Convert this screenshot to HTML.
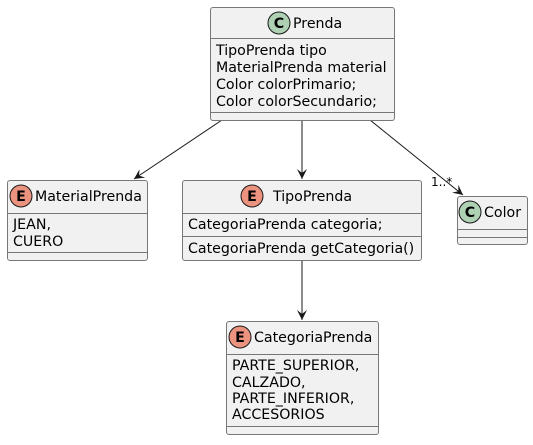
<!DOCTYPE html>
<html><head><meta charset="utf-8"><style>
body{margin:0;background:#fff}
svg text{font-family:"DejaVu Sans","Liberation Sans",sans-serif;font-size:14.2px;fill:#000}
.b{fill:#F1F1F1;stroke:#777;stroke-width:1}
.d{stroke:#777;stroke-width:1}
.l{stroke:#181818;stroke-width:1}
</style></head><body>
<svg width="533" height="440" viewBox="0 0 533 440">
<defs><marker id="ar" markerWidth="12" markerHeight="10" refX="10" refY="5" orient="auto" markerUnits="userSpaceOnUse"><path d="M0,0 L10,5 L0,10 L4,5 Z" fill="#181818"/></marker></defs>
<g>
<line class="l" x1="222" y1="120" x2="134" y2="179" marker-end="url(#ar)"/>
<line class="l" x1="302" y1="120" x2="302" y2="179" marker-end="url(#ar)"/>
<line class="l" x1="370" y1="120" x2="463" y2="195" marker-end="url(#ar)"/>
<text x="431" y="186" style="font-size:12px">1..*</text>
<line class="l" x1="302" y1="260" x2="302" y2="320" marker-end="url(#ar)"/>
</g>
<g>
<rect class="b" x="210.5" y="7.5" width="184" height="113" rx="2.5"/>
<circle cx="279" cy="23" r="11" fill="#ADD1B2" stroke="#181818" stroke-width="1"/>
<text x="279" y="28" text-anchor="middle" style="font-weight:bold">C</text>
<text x="293" y="28">Prenda</text>
<line class="d" x1="210" y1="38.5" x2="394" y2="38.5"/>
<text x="216" y="55">TipoPrenda tipo</text>
<text x="216" y="72">MaterialPrenda material</text>
<text x="216" y="89">Color colorPrimario;</text>
<text x="216" y="106">Color colorSecundario;</text>
<line class="d" x1="210" y1="112.5" x2="394" y2="112.5"/>
</g>
<g>
<rect class="b" x="7.5" y="180.5" width="140" height="80" rx="2.5"/>
<circle cx="21" cy="196" r="11" fill="#EB937F" stroke="#181818" stroke-width="1"/>
<text x="21" y="201" text-anchor="middle" style="font-weight:bold">E</text>
<text x="35" y="201">MaterialPrenda</text>
<line class="d" x1="7" y1="213.5" x2="147" y2="213.5"/>
<text x="13" y="229">JEAN,</text>
<text x="13" y="246">CUERO</text>
<line class="d" x1="7" y1="252.5" x2="147" y2="252.5"/>
</g>
<g>
<rect class="b" x="182.5" y="180.5" width="239" height="80" rx="2.5"/>
<circle cx="252" cy="196" r="11" fill="#EB937F" stroke="#181818" stroke-width="1"/>
<text x="252" y="201" text-anchor="middle" style="font-weight:bold">E</text>
<text x="273" y="201">TipoPrenda</text>
<line class="d" x1="182" y1="213.5" x2="421" y2="213.5"/>
<text x="188" y="229">CategoriaPrenda categoria;</text>
<line class="d" x1="182" y1="236.5" x2="421" y2="236.5"/>
<text x="188" y="253">CategoriaPrenda getCategoria()</text>
</g>
<g>
<rect class="b" x="457.5" y="196.5" width="70" height="48" rx="2.5"/>
<circle cx="470" cy="212" r="11" fill="#ADD1B2" stroke="#181818" stroke-width="1"/>
<text x="470" y="217" text-anchor="middle" style="font-weight:bold">C</text>
<text x="484" y="217">Color</text>
<line class="d" x1="457" y1="229.5" x2="527" y2="229.5"/>
<line class="d" x1="457" y1="237.5" x2="527" y2="237.5"/>
</g>
<g>
<rect class="b" x="226.5" y="321.5" width="152" height="113" rx="2.5"/>
<circle cx="240" cy="337" r="11" fill="#EB937F" stroke="#181818" stroke-width="1"/>
<text x="240" y="342" text-anchor="middle" style="font-weight:bold">E</text>
<text x="254" y="342">CategoriaPrenda</text>
<line class="d" x1="226" y1="354.5" x2="378" y2="354.5"/>
<text x="232" y="370">PARTE_SUPERIOR,</text>
<text x="232" y="387">CALZADO,</text>
<text x="232" y="403">PARTE_INFERIOR,</text>
<text x="232" y="419">ACCESORIOS</text>
<line class="d" x1="226" y1="426.5" x2="378" y2="426.5"/>
</g>
</svg>
</body></html>
